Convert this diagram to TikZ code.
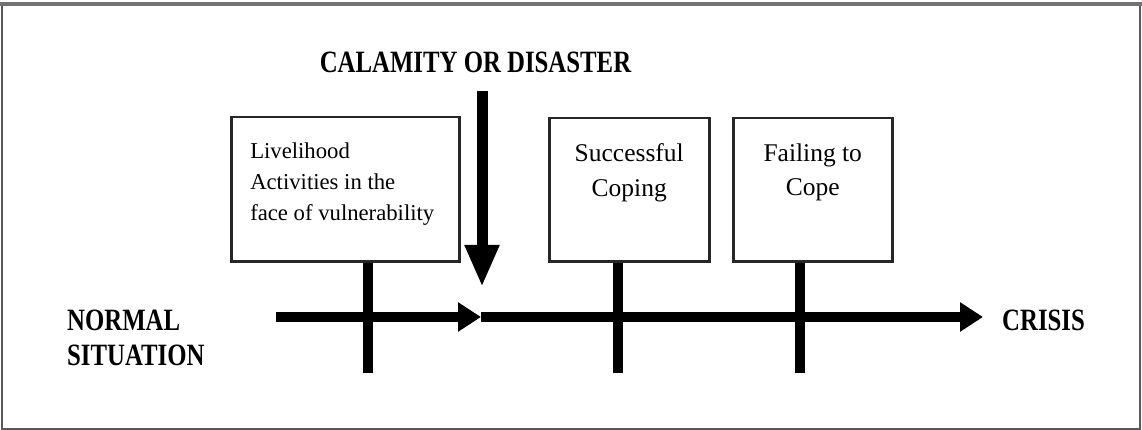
\documentclass[tikz,border=0pt]{standalone}
\usepackage{fontspec}
\setmainfont{Liberation Serif}
\usetikzlibrary{arrows.meta}
\tikzset{
  box/.style={draw=black!85, line width=2.5pt, inner sep=0pt, anchor=north west, fill=white},
  bar/.style={line width=10.5pt, black},
  harrow/.style={line width=10pt, black, -{Triangle[length=23pt,width=28pt]}},
  darrow/.style={line width=11pt, black, -{Triangle[length=42pt,width=32pt]}},
  bold/.style={inner sep=0pt, anchor=base west},
  frame/.style={draw=black!65, line width=2pt}
}
\newcommand{\bigbold}[1]{\scalebox{0.8}[1]{\fontsize{31}{35}\selectfont\bfseries #1}}
\begin{document}
\begin{tikzpicture}[x=1pt,y=-1pt]
\useasboundingbox (0,0) rectangle (1142,430);
% frame
\draw[frame] (2,4) rectangle (1139.5,428.5);
\draw[draw=black!55, line width=4pt] (0,4) -- (1142,4);

% title
\node[inner sep=0pt, anchor=base] (cal) at (475.5,73) {\bigbold{CALAMITY OR DISASTER}};

% boxes
\node[box] (b1) at (230,116) {\parbox[t][144pt][t]{228pt}{\fontsize{22.7}{31}\selectfont\leftskip=19pt\rule{0pt}{41pt}Livelihood\\Activities in the\\face of vulnerability}};
\node[box] (b2) at (548,117) {\parbox[t][143pt][t]{160pt}{\fontsize{25.5}{35}\selectfont\centering\rule{0pt}{43pt}Successful\\Coping\par}};
\node[box] (b3) at (732,117) {\parbox[t][143pt][t]{159pt}{\fontsize{25.5}{34}\selectfont\centering\rule{0pt}{43pt}Failing to\\Cope\par}};

% bars
\coordinate (e1) at (368,373);
\coordinate (e2) at (618,373);
\coordinate (e3) at (800,373);
\draw[bar] (b1.south -| e1) -- (e1);
\draw[bar] (b2.south -| e2) -- (e2);
\draw[bar] (b3.south -| e3) -- (e3);

% horizontal arrows
\coordinate (a0) at (276,317);
\coordinate (a1) at (481,317);
\coordinate (a2) at (983,317);
\draw[harrow] (a0) -- (a1);
\draw[harrow] (a1) -- (a2);

% down arrow
\coordinate (d0) at (482,91);
\coordinate (d1) at (482,287);
\draw[darrow] (d0) -- (d1);

% side labels
\node[bold] (ns) at (67,365) {\scalebox{0.8}[1]{\parbox[b]{220pt}{\fontsize{31}{35}\selectfont\bfseries NORMAL\\SITUATION}}};
\node[bold] (cr) at (1002,330) {\bigbold{CRISIS}};
\end{tikzpicture}
\end{document}
